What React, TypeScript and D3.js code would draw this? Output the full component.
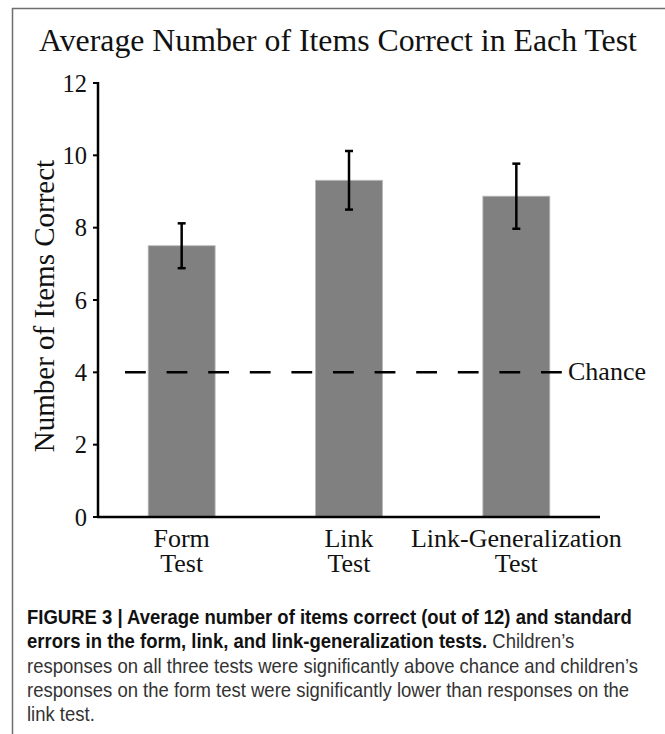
import React from 'react';
import * as d3 from 'd3';

const categories = ['Form Test', 'Link Test', 'Link-Generalization Test'];
const catLines = [['Form', 'Test'], ['Link', 'Test'], ['Link-Generalization', 'Test']];
const means = [7.5, 9.31, 8.87];
const stdErrors = [0.62, 0.81, 0.9];
const yTicks = [0, 2, 4, 6, 8, 10, 12];
const chance = 4;

const captionLines = [
  [{ t: 'FIGURE 3 | Average number of items correct (out of 12) and standard', b: true }],
  [
    { t: 'errors in the form, link, and link-generalization tests.', b: true },
    { t: ' Children\u2019s', b: false },
  ],
  [{ t: 'responses on all three tests were significantly above chance and children\u2019s', b: false }],
  [{ t: 'responses on the form test were significantly lower than responses on the', b: false }],
  [{ t: 'link test.', b: false }],
];

const W = 665;
const H = 734;
const serif = '"Liberation Serif", "Times New Roman", serif';
const sans = '"Liberation Sans", Arial, sans-serif';

export default function App() {
  // plot area
  const left = 98;
  const right = 600;
  const top = 83;
  const bottom = 517;

  const x = d3.scaleBand<string>()
    .domain(categories)
    .range([left, right])
    .paddingInner(0.6)
    .paddingOuter(0.3);

  const y = d3.scaleLinear().domain([0, 12]).range([bottom, top]);
  const mid = (c: string) => (x(c) || 0) + x.bandwidth() / 2;

  return (
    <div style={{ position: 'absolute', left: 0, top: 0 }}>
      <svg width={W} height={H} viewBox={`0 0 ${W} ${H}`} style={{ display: 'block', background: '#fff' }}>
        {/* frame */}
        <line x1={12.5} y1={8} x2={12.5} y2={H} stroke="#6e6e6e" strokeWidth={1.5} />
        <line x1={12} y1={8.5} x2={W} y2={8.5} stroke="#6e6e6e" strokeWidth={1.5} />

        {/* title */}
        <text x={338} y={51} textAnchor="middle" fontFamily={serif} fontSize={31.8} fill="#111">
          Average Number of Items Correct in Each Test
        </text>

        {/* bars */}
        {categories.map((c, i) => (
          <rect
            key={c}
            x={x(c)}
            y={y(means[i])}
            width={x.bandwidth()}
            height={bottom - y(means[i])}
            fill="#808080"
            stroke="#b8b8b8"
            strokeWidth={0.8}
          />
        ))}

        {/* error bars */}
        {categories.map((c, i) => {
          const cx = mid(c);
          const y1 = y(means[i] + stdErrors[i]);
          const y2 = y(means[i] - stdErrors[i]);
          return (
            <g key={c} stroke="#000" strokeWidth={2.5}>
              <line x1={cx} x2={cx} y1={y1} y2={y2} />
              <line x1={cx - 4} x2={cx + 4} y1={y1} y2={y1} />
              <line x1={cx - 4} x2={cx + 4} y1={y2} y2={y2} />
            </g>
          );
        })}

        {/* chance line */}
        <line
          x1={125}
          x2={563}
          y1={y(chance)}
          y2={y(chance)}
          stroke="#000"
          strokeWidth={2.5}
          strokeDasharray="20.8 20.8"
        />
        <text x={568} y={380} fontFamily={serif} fontSize={26} fill="#111">Chance</text>

        {/* y axis */}
        <line x1={left} x2={left} y1={top - 1} y2={bottom + 1} stroke="#000" strokeWidth={2.5} />
        {yTicks.map(t => (
          <g key={t}>
            <line x1={left - 5} x2={left} y1={y(t)} y2={y(t)} stroke="#000" strokeWidth={2} />
            <text
              x={left - 11}
              y={y(t)}
              dy="0.35em"
              textAnchor="end"
              fontFamily={serif}
              fontSize={24.5}
              fill="#111"
            >
              {t}
            </text>
          </g>
        ))}
        <text
          transform={`translate(54, 306) rotate(-90)`}
          textAnchor="middle"
          fontFamily={serif}
          fontSize={29}
          fill="#111"
        >
          Number of Items Correct
        </text>

        {/* x axis */}
        <line x1={left - 1} x2={right} y1={bottom} y2={bottom} stroke="#000" strokeWidth={2.5} />
        {categories.map((c, i) =>
          catLines[i].map((ln, j) => (
            <text
              key={c + j}
              x={mid(c)}
              y={547 + j * 25}
              textAnchor="middle"
              fontFamily={serif}
              fontSize={26}
              fill="#111"
            >
              {ln}
            </text>
          ))
        )}

        {/* caption */}
        <g transform="translate(27,0) scale(0.925,1)">
          {captionLines.map((parts, i) => (
            <text key={i} x={0} y={624 + i * 24.3} fontFamily={sans} fontSize={20} fill="#333">
              {parts.map((p, j) => (
                <tspan key={j} fontWeight={p.b ? 'bold' : 'normal'} fill={p.b ? '#111' : '#333'}>{p.t}</tspan>
              ))}
            </text>
          ))}
        </g>
      </svg>
    </div>
  );
}
